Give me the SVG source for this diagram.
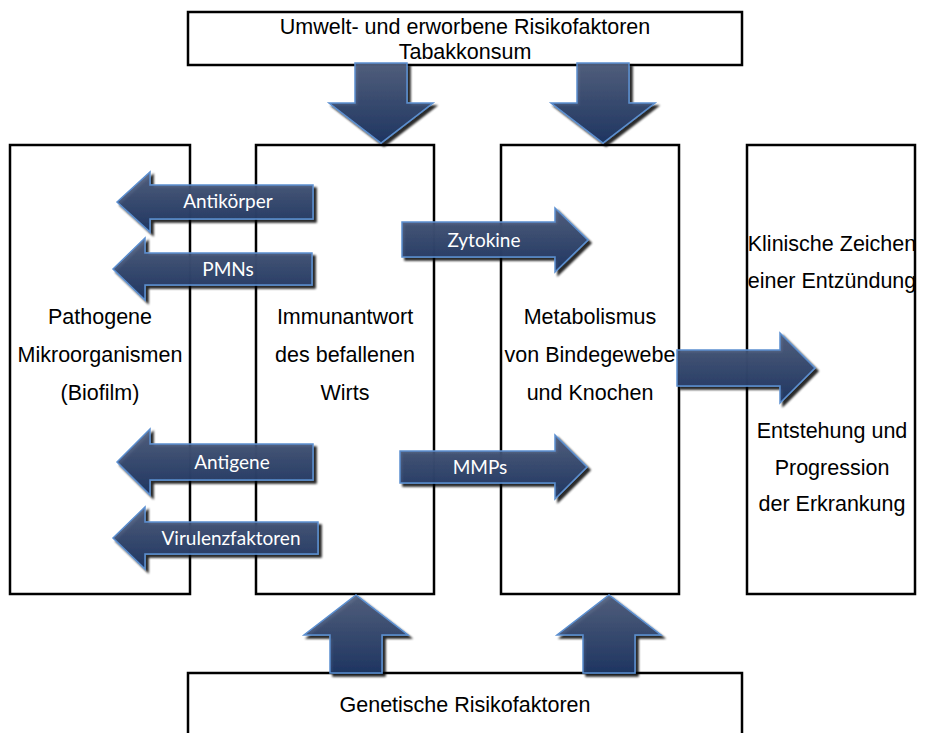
<svg xmlns="http://www.w3.org/2000/svg" width="925" height="733" viewBox="0 0 925 733">
<style>
.box{fill:#fff;stroke:#000;stroke-width:2.5}
.t{font-family:"Liberation Sans",Arial,sans-serif;font-size:21.5px;fill:#000;text-anchor:middle}
.arr{fill:url(#g);fill-opacity:0.92;stroke:#5b8fd0;stroke-width:1.5;stroke-linejoin:miter;filter:url(#sh)}
.lbl{font-family:Lato,"Open Sans",sans-serif;font-size:19px;fill:#fff;text-anchor:middle}
</style>
<defs>
<linearGradient id="g" x1="0" y1="0" x2="0" y2="1">
<stop offset="0" stop-color="#515f7e"/>
<stop offset="1" stop-color="#1d3562"/>
</linearGradient>
<filter id="sh" x="-10%" y="-20%" width="130%" height="150%">
<feGaussianBlur in="SourceAlpha" stdDeviation="1"/>
<feOffset dx="3" dy="3" result="o"/>
<feComponentTransfer><feFuncA type="linear" slope="0.9"/></feComponentTransfer>
<feMerge><feMergeNode/><feMergeNode in="SourceGraphic"/></feMerge>
</filter>
</defs>
<rect width="925" height="733" fill="#fff"/>
<g id="umwelt">
<rect class="box" x="188" y="12" width="554" height="53"/>
<text class="t" x="465" y="34">Umwelt- und erworbene Risikofaktoren</text>
<text class="t" x="465" y="59">Tabakkonsum</text>
</g>
<g id="pathogene">
<rect class="box" x="10" y="145" width="180" height="449"/>
<text class="t" x="100" y="324">Pathogene</text>
<text class="t" x="100" y="362">Mikroorganismen</text>
<text class="t" x="100" y="400">(Biofilm)</text>
</g>
<g id="immunantwort">
<rect class="box" x="256" y="145" width="178" height="449"/>
<text class="t" x="345" y="324">Immunantwort</text>
<text class="t" x="345" y="362">des befallenen</text>
<text class="t" x="345" y="400">Wirts</text>
</g>
<g id="metabolismus">
<rect class="box" x="501" y="145" width="178" height="449"/>
<text class="t" x="590" y="324">Metabolismus</text>
<text class="t" x="590" y="362">von Bindegewebe</text>
<text class="t" x="590" y="400">und Knochen</text>
</g>
<g id="klinik">
<rect class="box" x="747" y="145" width="168" height="449"/>
<text class="t" x="832" y="251">Klinische Zeichen</text>
<text class="t" x="832" y="288">einer Entzündung</text>
<text class="t" x="832" y="438">Entstehung und</text>
<text class="t" x="832" y="475">Progression</text>
<text class="t" x="832" y="511">der Erkrankung</text>
</g>
<g id="genetik">
<rect class="box" x="188" y="673" width="554" height="80"/>
<text class="t" x="465" y="712">Genetische Risikofaktoren</text>
</g>
<g id="connectors">
<path class="arr" d="M355,63 L407,63 L407,103 L433,103 L381,143 L329,103 L355,103 Z"/>
<path class="arr" d="M577,63 L629,63 L629,103 L655,103 L603,143 L551,103 L577,103 Z"/>
<path class="arr" d="M330,673 L382,673 L382,635 L408,635 L356,595 L304,635 L330,635 Z"/>
<path class="arr" d="M583,673 L635,673 L635,635 L661,635 L609,595 L557,635 L583,635 Z"/>
<path class="arr" d="M117,202 L150,172 L150,185 L313,185 L313,219 L150,219 L150,232 Z"/>
<text class="lbl" x="228" y="208">Antikörper</text>
<path class="arr" d="M113,269 L145,238 L145,253 L312,253 L312,285 L145,285 L145,300 Z"/>
<text class="lbl" x="228" y="276">PMNs</text>
<path class="arr" d="M402,222 L555,222 L555,208 L588,240 L555,272 L555,257 L402,257 Z"/>
<text class="lbl" x="484" y="247">Zytokine</text>
<path class="arr" d="M117,462 L150,429 L150,444 L313,444 L313,480 L150,480 L150,495 Z"/>
<text class="lbl" x="232" y="469">Antigene</text>
<path class="arr" d="M113,538 L145,507 L145,522 L318,522 L318,554 L145,554 L145,569 Z"/>
<text class="lbl" x="231" y="545">Virulenzfaktoren</text>
<path class="arr" d="M400,451 L555,451 L555,435 L587,467 L555,499 L555,483 L400,483 Z"/>
<text class="lbl" x="480" y="474">MMPs</text>
<path class="arr" d="M677,350 L780,350 L780,333 L815,368 L780,403 L780,386 L677,386 Z"/>
</g>
</svg>
